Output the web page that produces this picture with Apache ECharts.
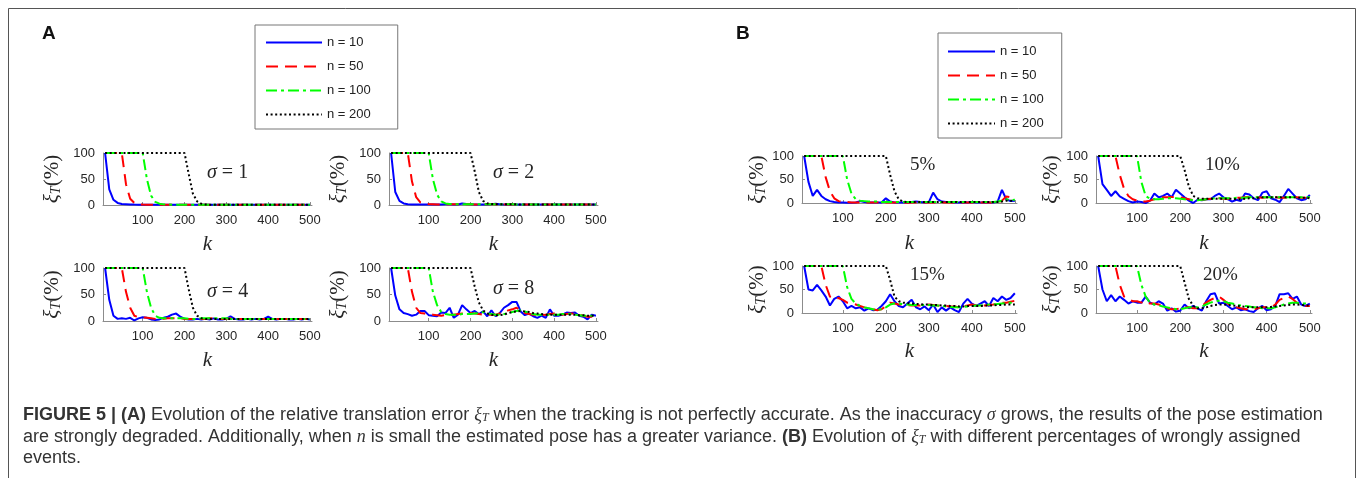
<!DOCTYPE html>
<html>
<head>
<meta charset="utf-8">
<script src="https://cdn.jsdelivr.net/npm/echarts@6/dist/echarts.min.js"></script>
<style>
html, body { margin: 0; padding: 0; background: #fff; }
#fig { width: 1357px; height: 478px; }
</style>
</head>
<body>
<div id="fig"></div>
<script>
// ---- data ----------------------------------------------------------
var kSteps = [10,20,30,40,50,60,70,80,90,100,110,120,130,140,150,160,170,180,190,200,
              210,220,230,240,250,260,270,280,290,300,310,320,330,340,350,360,370,380,390,400,
              410,420,430,440,450,460,470,480,490,500];
var kTicks = [100, 200, 300, 400, 500];
var seriesNames = ["n = 10", "n = 50", "n = 100", "n = 200"];
var panelLabels = ["{i|σ} = 1", "{i|σ} = 2", "{i|σ} = 4", "{i|σ} = 8", "5%", "10%", "15%", "20%"];

// (A) sigma = 1
var s1n10 = [100,30,10,4,2,1.5,1,0.8,0.7,0.6, 0.5,0.5,0.4,0.5,0.4,0.5,0.4,0.6,0.5,0.4, 0.4,0.5,0.4,0.4,0.5,0.6,0.4,0.4,0.5,0.4, 0.4,0.5,0.4,0.4,0.4,0.5,0.4,0.4,0.6,0.5, 0.4,0.5,0.4,0.4,0.5,0.4,0.4,0.5,0.4,0.4];
var s1n50 = [100,100,100,100,100,40,12,4,1.5,0.8, 0.6,0.5,0.5,0.5,0.5,0.5,0.5,0.5,0.5,0.5, 0.5,0.5,0.5,0.5,0.5,0.5,0.5,0.5,0.5,0.5, 0.5,0.5,0.5,0.5,0.5,0.5,0.5,0.5,0.5,0.5, 0.5,0.5,0.5,0.5,0.5,0.5,0.5,0.5,0.5,0.5];
var s1n100 = [100,100,100,100,100,100,100,100,100,100, 50,18,6,2.5,1.2,0.8,0.6,0.5,0.5,0.5, 0.5,0.5,0.5,0.5,0.5,0.5,0.5,0.5,0.5,0.5, 0.5,0.5,0.5,0.5,0.5,0.5,0.5,0.5,0.5,0.5, 0.5,0.5,0.5,0.5,0.5,0.5,0.5,0.5,0.5,0.5];
var s1n200 = [100,100,100,100,100,100,100,100,100,100, 100,100,100,100,100,100,100,100,100,100, 60,22,7,2.5,1,0.6,0.5,0.5,0.5,0.5, 0.5,0.5,0.5,0.5,0.5,0.5,0.5,0.5,0.5,0.5, 0.5,0.5,0.5,0.5,0.5,0.5,0.5,0.5,0.5,0.5];
// (A) sigma = 2
var s2n10 = [100,25,8,3,1.5,1,1,0.8,0.8,1, 1.2,1,1,1.3,1.5,1.2,1,3,2,1.5, 1,1,1,1.2,1.5,2.5,1.5,1,1,1, 1,1.2,1,1,1,1,1.2,1,1,1, 1.2,1,1,1,1,1,1.2,1,1,1];
var s2n50 = [100,100,100,100,100,45,15,5,2.5,1.8, 1.5,1.2,1.2,1.3,1.5,1.5,1.3,1.5,1.5,1.3, 1.2,1.2,1.2,1.3,1.3,1.5,1.5,1.3,1.2,1.2, 1.2,1.2,1.2,1.2,1.2,1.2,1.2,1.2,1.2,1.2, 1.1,1.1,1.1,1.1,1.1,1.1,1.1,1.1,1.1,1.1];
var s2n100 = [100,100,100,100,100,100,100,100,100,100, 50,20,7,3,2,1.6,1.5,1.5,1.5,1.4, 1.3,1.3,1.3,1.3,1.3,1.3,1.3,1.3,1.3,1.3, 1.2,1.2,1.2,1.2,1.2,1.2,1.2,1.2,1.2,1.2, 1.2,1.2,1.2,1.2,1.2,1.2,1.2,1.2,1.2,1.2];
var s2n200 = [100,100,100,100,100,100,100,100,100,100, 100,100,100,100,100,100,100,100,100,100, 65,25,8,3,2,1.5,1.4,1.3,1.3,1.3, 1.2,1.2,1.2,1.2,1.2,1.2,1.2,1.2,1.2,1.2, 1.2,1.2,1.2,1.2,1.2,1.2,1.2,1.2,1.2,1.2];
// (A) sigma = 4
var s4n10 = [100,40,10,4,5,4,6,1,5,7, 6,3,2,3,6,8,12,14,8,4, 3,3,4,3,4,3,5,3,3,4, 9,4,3,3,4,3,4,3,4,8, 4,3,4,4,3,3,4,3,4,3];
var s4n50 = [100,100,100,100,100,55,25,10,7,7, 6,5,4,3,4,5,5,5,5,4, 4,4,4,4,4,5,5,4,4,4, 5,4,4,4,4,4,4,4,4,4, 4,4,4,4,4,4,4,4,4,4];
var s4n100 = [100,100,100,100,100,100,100,100,100,100, 55,25,10,6,5,5,5,5,5,5, 4,4,4,5,5,5,5,5,5,5, 4,4,4,4,4,4,4,4,4,4, 4,4,4,4,4,4,4,4,4,4];
var s4n200 = [100,100,100,100,100,100,100,100,100,100, 100,100,100,100,100,100,100,100,100,100, 60,25,10,5,4,4,4,4,4,4, 4,4,4,4,4,4,4,4,4,4, 4,4,4,4,4,4,4,4,4,4];
// (A) sigma = 8
var s8n10 = [100,48,22,15,13,10,12,19,19,11, 10,9,16,15,25,6,12,30,22,15, 19,13,18,9,20,9,15,25,30,36, 36,18,11,14,9,6,10,6,22,10, 10,12,16,15,16,10,8,3,12,10];
var s8n50 = [100,100,100,100,100,55,25,15,14,13, 12,11,10,11,12,12,13,14,15,15, 14,13,12,12,12,12,14,16,20,22, 25,20,15,13,12,12,11,12,13,14, 12,12,13,14,14,12,10,8,8,9];
var s8n100 = [100,100,100,100,100,100,100,100,100,100, 55,30,17,13,12,12,12,13,13,13, 14,15,17,15,13,12,12,13,15,17, 19,20,18,15,13,12,12,12,12,12, 12,13,13,13,12,11,10,10,10,10];
var s8n200 = [100,100,100,100,100,100,100,100,100,100, 100,100,100,100,100,100,100,100,100,100, 65,35,20,14,12,11,11,12,15,17, 18,19,18,17,15,14,13,12,12,12, 12,12,12,12,12,11,11,10,10,10];

// (B) 5 %
var b5n10 = [100,45,15,28,15,8,4,2,1,1, 0.5,0.5,1,4,2,1,1,1,1,10, 3,1,1,1,1,2,3,2,1,2, 22,8,3,2,2,1,1,1,1,2, 1,1,1,1,1,3,28,8,4,5];
var b5n50 = [100,100,100,100,100,55,25,10,4,2, 2,1,1,1,1,1,1,1,1,1, 1,1,1,0.5,0.5,1,1,1,1,1, 1,1,1,1,1,1,1,1,1,1, 1,1,1,1,1,1,5,14,12,6];
var b5n100 = [100,100,100,100,100,100,100,100,100,100, 50,20,8,5,4,3,3,3,2,2, 2,2,2,2,2,2,2,2,2,2, 2,2,2,2,2,2,2,2,2,2, 2,2,2,2,2,3,5,8,6,7];
var b5n200 = [100,100,100,100,100,100,100,100,100,100, 100,100,100,100,100,100,100,100,100,100, 60,25,8,3,2,2,2,2,2,2, 2,2,2,2,2,2,2,2,2,2, 2,2,2,2,2,2,3,5,5,4];
// (B) 10 %
var b10n10 = [100,40,28,15,25,14,9,4,1,3, 2,0,5,20,12,15,20,12,28,20, 12,5,0,7,6,8,8,15,20,12, 8,3,7,4,20,18,10,6,22,25, 10,7,2,15,30,20,10,6,8,17];
var b10n50 = [100,100,100,100,100,60,30,15,8,5, 3,3,5,8,10,12,12,13,12,12, 10,8,6,6,7,8,9,10,10,9, 9,10,11,11,12,13,13,12,11,12, 13,12,11,11,12,13,12,11,11,10];
var b10n100 = [100,100,100,100,100,100,100,100,100,100, 45,15,9,8,8,9,10,10,10,9, 8,7,6,6,7,8,9,10,10,10, 10,10,11,11,11,12,12,12,12,12, 12,12,12,12,12,12,12,12,12,12];
var b10n200 = [100,100,100,100,100,100,100,100,100,100, 100,100,100,100,100,100,100,100,100,100, 70,35,15,10,9,9,9,9,9,9, 9,9,8,8,9,10,10,11,12,12, 12,12,12,12,12,12,12,11,11,10];
// (B) 15 %
var b15n10 = [100,50,48,60,48,35,16,30,35,25, 10,15,10,12,5,10,6,7,15,25, 40,25,15,12,20,28,12,8,14,6, 18,2,12,5,12,6,2,20,30,20, 15,20,25,15,32,25,35,28,32,42];
var b15n50 = [100,100,100,100,100,60,35,30,32,28, 22,20,18,15,12,10,8,6,8,15, 22,20,18,18,17,16,16,16,17,18, 17,16,15,15,14,14,12,14,16,18, 16,15,16,17,18,20,22,22,24,26];
var b15n100 = [100,100,100,100,100,100,100,100,100,100, 55,30,20,15,12,10,8,7,8,12, 18,20,20,19,18,17,17,17,17,17, 16,16,15,14,13,12,12,13,14,15, 16,16,17,18,18,19,20,21,22,22];
var b15n200 = [100,100,100,100,100,100,100,100,100,100, 100,100,100,100,100,100,100,100,100,100, 70,35,25,22,21,20,19,19,18,18, 17,17,16,16,15,15,14,14,15,15, 15,15,16,16,16,17,17,18,18,18];
// (B) 20 %
var b20n10 = [100,50,25,38,25,35,28,20,25,22, 22,35,22,18,25,20,5,10,3,5, 18,10,15,10,5,25,40,42,20,22, 15,8,12,6,8,4,2,10,15,6, 8,15,40,40,42,30,35,18,15,20];
var b20n50 = [100,100,100,100,100,60,35,30,25,25, 22,25,20,20,18,15,10,8,8,10, 12,12,10,10,15,22,28,32,35,28, 20,15,12,10,8,8,8,10,12,12, 12,18,28,32,35,30,22,18,15,15];
var b20n100 = [100,100,100,100,100,100,100,100,100,100, 60,35,22,18,16,14,12,10,8,8, 10,12,12,12,14,18,22,25,26,25, 22,20,18,16,15,14,12,12,10,10, 10,12,15,18,20,22,22,20,20,20];
var b20n200 = [100,100,100,100,100,100,100,100,100,100, 100,100,100,100,100,100,100,100,100,100, 65,30,15,10,10,12,15,17,18,18, 17,16,15,14,13,12,12,12,12,12, 13,14,15,16,17,18,18,17,16,16];

var panelData = [
    [s1n10, s1n50, s1n100, s1n200],
    [s2n10, s2n50, s2n100, s2n200],
    [s4n10, s4n50, s4n100, s4n200],
    [s8n10, s8n50, s8n100, s8n200],
    [b5n10, b5n50, b5n100, b5n200],
    [b10n10, b10n50, b10n100, b10n200],
    [b15n10, b15n50, b15n100, b15n200],
    [b20n10, b20n50, b20n100, b20n200]
];

// ---- layout ----------------------------------------------------------
// [left, top, width, height, yNameGap, xNameGap]
var gridBoxes = [
    [103, 153, 209, 52, 40, 29],
    [389, 153, 209, 52, 40, 29],
    [103, 268, 209, 53, 40, 29],
    [389, 268, 209, 53, 40, 29],
    [802, 156, 215, 47, 31, 30],
    [1096, 156, 216, 47, 31, 30],
    [802, 266, 215, 47, 31, 28],
    [1096, 266, 216, 47, 31, 28]
];
var labelPos = [[207, 173], [493, 173], [207, 292], [493, 289], [910, 165], [1205, 165], [910, 275], [1203, 275]];

var lineStyles = [
    { color: "#0000ff", width: 2, type: "solid" },
    { color: "#ff0000", width: 2, type: [12, 7] },
    { color: "#00ff00", width: 2, type: [11, 4, 3, 4] },
    { color: "#000000", width: 2, type: [2, 2.6] }
];

var axisGray = "#8c8c8c";
var tickFont = { fontFamily: "Liberation Sans", fontSize: 13, color: "#262626" };
var serif = "Liberation Serif";

var chart = echarts.init(document.getElementById("fig"));

var grids = [], xAxes = [], yAxes = [], series = [];
gridBoxes.forEach(function (b, g) {
    grids.push({ left: b[0], top: b[1], width: b[2], height: b[3] });
    xAxes.push({
        type: "value",
        gridIndex: g,
        min: 5,
        max: 505,
        name: "k",
        nameLocation: "middle",
        nameGap: b[5],
        nameTextStyle: { fontFamily: serif, fontStyle: "italic", fontSize: 21, color: "#262626" },
        axisLine: { lineStyle: { color: axisGray, width: 1 } },
        axisTick: { inside: true, length: 3, customValues: kTicks, lineStyle: { color: axisGray } },
        axisLabel: Object.assign({ margin: 9, customValues: kTicks }, tickFont),
        splitLine: { show: false }
    });
    yAxes.push({
        type: "value",
        gridIndex: g,
        min: 0,
        max: 100,
        interval: 50,
        name: "{x|ξ}{t|T}{p|(%)}",
        nameLocation: "middle",
        nameRotate: 90,
        nameGap: b[4],
        nameTextStyle: {
            fontFamily: serif, fontSize: 21, color: "#262626",
            rich: {
                x: { fontFamily: serif, fontStyle: "italic", fontSize: 21, color: "#262626" },
                t: { fontFamily: serif, fontStyle: "italic", fontSize: 14, color: "#262626", verticalAlign: "bottom", padding: [7, 0, 0, 0] },
                p: { fontFamily: serif, fontSize: 21, color: "#262626" }
            }
        },
        axisLine: { show: true, lineStyle: { color: axisGray, width: 1 } },
        axisTick: { show: true, inside: true, length: 3, lineStyle: { color: axisGray } },
        axisLabel: Object.assign({ margin: 8 }, tickFont),
        splitLine: { show: false }
    });
    panelData[g].forEach(function (vals, s) {
        series.push({
            name: seriesNames[s],
            type: "line",
            xAxisIndex: g,
            yAxisIndex: g,
            symbol: "none",
            clip: false,
            z: 2 + s,
            itemStyle: { color: lineStyles[s].color },
            lineStyle: lineStyles[s],
            data: kSteps.map(function (k, i) { return [k, vals[i]]; })
        });
    });
});

var graphics = [
    // figure frame
    { type: "rect", silent: true, shape: { x: 8.5, y: 8.5, width: 1347, height: 540 },
      style: { fill: "none", stroke: "#555", lineWidth: 1 } },
    { type: "text", x: 42, y: 34, style: { text: "A", font: "bold 19px Liberation Sans", fill: "#111", verticalAlign: "middle" } },
    { type: "text", x: 736, y: 34, style: { text: "B", font: "bold 19px Liberation Sans", fill: "#111", verticalAlign: "middle" } }
];

panelLabels.forEach(function (t, i) {
    graphics.push({
        type: "text", x: labelPos[i][0], y: labelPos[i][1],
        style: {
            text: t, fontFamily: serif, fontSize: i < 4 ? 20 : 19, fill: "#262626", verticalAlign: "middle",
            rich: { i: { fontFamily: serif, fontStyle: "italic", fontSize: 20, fill: "#262626" } }
        }
    });
});

// caption
var capFont = 18;
var capRich = {
    b: { fontFamily: "Liberation Sans", fontWeight: "bold", fontSize: capFont, fill: "#333" },
    i: { fontFamily: serif, fontStyle: "italic", fontSize: capFont, fill: "#333" },
    s: { fontFamily: serif, fontStyle: "italic", fontSize: 12, fill: "#333", verticalAlign: "bottom" }
};
var capLines = [
    "{b|FIGURE 5 | (A)} Evolution of the relative translation error {i|ξ}{s|T} when the tracking is not perfectly accurate. As the inaccuracy {i|σ} grows, the results of the pose estimation",
    "are strongly degraded. Additionally, when {i|n} is small the estimated pose has a greater variance. {b|(B)} Evolution of {i|ξ}{s|T} with different percentages of wrongly assigned",
    "events."
];
var capY = [415, 437, 458];
capLines.forEach(function (t, i) {
    graphics.push({
        type: "text", x: 23, y: capY[i],
        style: { text: t, fontFamily: "Liberation Sans", fontSize: capFont, fill: "#333", verticalAlign: "middle", rich: capRich }
    });
});

var legendText = { fontFamily: "Liberation Sans", fontSize: 13, color: "#222" };

var option = {
    animation: false,
    backgroundColor: "#fff",
    grid: grids,
    xAxis: xAxes,
    yAxis: yAxes,
    legend: [
        {
            left: 255, top: 25, orient: "vertical",
            itemWidth: 56, itemHeight: 13, itemGap: 11,
            padding: [11, 27, 8, 10],
            borderColor: "#777", borderWidth: 1,
            selectedMode: false,
            itemStyle: { opacity: 0 },
            textStyle: legendText,
            data: seriesNames
        },
        {
            left: 938, top: 33, orient: "vertical",
            itemWidth: 47, itemHeight: 13, itemGap: 11,
            padding: [12, 18, 8, 9],
            borderColor: "#777", borderWidth: 1,
            selectedMode: false,
            itemStyle: { opacity: 0 },
            textStyle: legendText,
            data: seriesNames
        }
    ],
    graphic: graphics,
    series: series
};

chart.setOption(option);
window.addEventListener("resize", function () {
    chart.resize();
});
</script>
</body>
</html>
